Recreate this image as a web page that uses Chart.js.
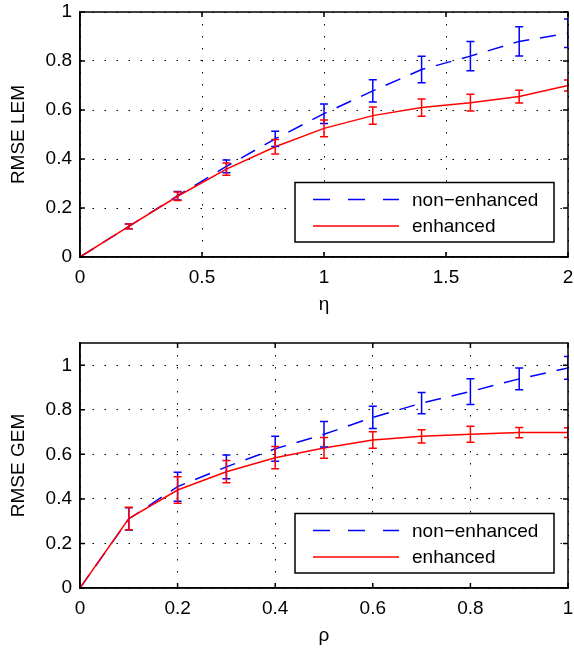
<!DOCTYPE html>
<html>
<head>
<meta charset="utf-8">
<script src="https://cdn.jsdelivr.net/npm/chart.js@4"></script>
<style>
  body { margin: 0; background: #fff; }
  .panel { position: absolute; left: 0; width: 574px; height: 320px; }
</style>
</head>
<body>
<div class="panel" style="top:0"><canvas id="lemChart" width="574" height="320"></canvas></div>
<div class="panel" style="top:331px"><canvas id="gemChart" width="574" height="320"></canvas></div>
<script>
// top panel: RMSE LEM vs eta
const etaVals = [0, 0.2, 0.4, 0.6, 0.8, 1.0, 1.2, 1.4, 1.6, 1.8, 2.0];
const lemNonEnh = [0, 0.125, 0.25, 0.37, 0.482, 0.585, 0.678, 0.765, 0.82, 0.88, 0.913];
const lemNonEnhErr = [0, 0.01, 0.017, 0.026, 0.031, 0.04, 0.045, 0.054, 0.06, 0.06, 0.058];
const lemEnh = [0, 0.125, 0.248, 0.359, 0.45, 0.525, 0.577, 0.61, 0.63, 0.655, 0.70];
const lemEnhErr = [0, 0.01, 0.017, 0.025, 0.03, 0.034, 0.035, 0.035, 0.034, 0.026, 0.022];
const etaTicks = [0, 0.5, 1, 1.5, 2];
const etaTickLabels = ['0', '0.5', '1', '1.5', '2'];

// bottom panel: RMSE GEM vs rho
const rhoVals = [0, 0.1, 0.2, 0.3, 0.4, 0.5, 0.6, 0.7, 0.8, 0.9, 1.0];
const gemNonEnh = [0, 0.31, 0.455, 0.544, 0.625, 0.69, 0.766, 0.83, 0.882, 0.939, 0.988];
const gemNonEnhErr = [0, 0.05, 0.065, 0.053, 0.056, 0.057, 0.05, 0.048, 0.058, 0.049, 0.051];
const gemEnh = [0, 0.312, 0.44, 0.522, 0.585, 0.629, 0.665, 0.681, 0.69, 0.698, 0.698];
const gemEnhErr = [0, 0.05, 0.06, 0.05, 0.05, 0.047, 0.037, 0.03, 0.036, 0.023, 0.022];
const rhoTicks = [0, 0.2, 0.4, 0.6, 0.8, 1];
const rhoTickLabels = ['0', '0.2', '0.4', '0.6', '0.8', '1'];

const rmseTicks = [0, 0.2, 0.4, 0.6, 0.8, 1];
const rmseTickLabels = ['0', '0.2', '0.4', '0.6', '0.8', '1'];

const seriesNames = ['non\u2212enhanced', 'enhanced'];

const BLUE = '#0000ff';
const RED = '#ff0000';
const FONT = "'Liberation Sans', Arial, Helvetica, sans-serif";

Chart.defaults.font.family = FONT;
Chart.defaults.font.size = 19;
Chart.defaults.color = '#000';

const toPoints = (xs, ys) => xs.map((x, i) => ({ x: x, y: ys[i] }));

// error bars, drawn from each dataset's "errors" array through the scales
const errorBars = {
  id: 'errorBars',
  afterDatasetsDraw(chart) {
    const { ctx, chartArea: a, scales: { x, y } } = chart;
    ctx.save();
    ctx.beginPath();
    ctx.rect(a.left, a.top - 1, a.right - a.left, a.bottom - a.top + 2);
    ctx.clip();
    chart.data.datasets.forEach(ds => {
      ctx.strokeStyle = ds.borderColor;
      ctx.lineWidth = 1.5;
      ctx.setLineDash([]);
      ds.data.forEach((p, i) => {
        const e = ds.errors[i];
        if (!e) return;
        const px = x.getPixelForValue(p.x);
        const top = y.getPixelForValue(p.y + e);
        const bot = y.getPixelForValue(p.y - e);
        ctx.beginPath();
        ctx.moveTo(px, top); ctx.lineTo(px, bot);
        ctx.moveTo(px - 4, top); ctx.lineTo(px + 4, top);
        ctx.moveTo(px - 4, bot); ctx.lineTo(px + 4, bot);
        ctx.stroke();
      });
    });
    ctx.restore();
  }
};

// closed box with inward tick marks, then legend in the lower right
const frameAndLegend = {
  id: 'frameAndLegend',
  afterDraw(chart) {
    const { ctx, chartArea: a, scales: { x, y } } = chart;
    ctx.save();
    ctx.strokeStyle = '#000';
    ctx.lineWidth = 1.5;
    ctx.setLineDash([]);
    ctx.strokeRect(a.left, a.top, a.right - a.left, a.bottom - a.top);
    ctx.beginPath();
    x.ticks.forEach(t => {
      const px = x.getPixelForValue(t.value);
      ctx.moveTo(px, a.bottom); ctx.lineTo(px, a.bottom - 5);
      ctx.moveTo(px, a.top); ctx.lineTo(px, a.top + 5);
    });
    y.ticks.forEach(t => {
      const py = y.getPixelForValue(t.value);
      ctx.moveTo(a.left, py); ctx.lineTo(a.left + 5, py);
      ctx.moveTo(a.right, py); ctx.lineTo(a.right - 5, py);
    });
    ctx.stroke();

    // legend box
    const w = 259, h = 59.5;
    const bx = a.right - 14 - w, by = a.bottom - 15 - h;
    ctx.fillStyle = '#fff';
    ctx.fillRect(bx, by, w, h);
    ctx.lineWidth = 1.5;
    ctx.strokeRect(bx, by, w, h);

    const rows = [by + 17, by + 43.5];
    chart.data.datasets.forEach((ds, i) => {
      ctx.strokeStyle = ds.borderColor;
      ctx.lineWidth = 1.5;
      ctx.setLineDash(i === 0 ? [17, 18] : []);
      ctx.beginPath();
      ctx.moveTo(bx + 18, rows[i]);
      ctx.lineTo(bx + 104, rows[i]);
      ctx.stroke();
      ctx.setLineDash([]);
      ctx.fillStyle = '#000';
      ctx.font = `19px ${FONT}`;
      ctx.textBaseline = 'middle';
      ctx.textAlign = 'left';
      ctx.fillText(ds.label, bx + 117, rows[i] + 1);
    });
    ctx.restore();
  }
};

// no automatic padding for overhanging labels, so the plot box lands where it should
const noPad = s => { s.paddingLeft = 0; s.paddingRight = 0; s.paddingTop = 0; s.paddingBottom = 0; };

function buildChart(id, o) {
  new Chart(document.getElementById(id), {
    type: 'line',
    data: {
      datasets: [
        {
          label: seriesNames[0],
          data: toPoints(o.xs, o.nonEnh),
          errors: o.nonEnhErr,
          borderColor: BLUE,
          borderWidth: 1.5,
          borderDash: [16, 11],
          pointRadius: 0,
          tension: 0,
          order: 1
        },
        {
          label: seriesNames[1],
          data: toPoints(o.xs, o.enh),
          errors: o.enhErr,
          borderColor: RED,
          borderWidth: 1.5,
          pointRadius: 0,
          tension: 0,
          order: 0
        }
      ]
    },
    options: {
      responsive: false,
      animation: false,
      layout: { padding: { left: 0, right: 6, top: 12, bottom: 0 } },
      plugins: { legend: { display: false }, tooltip: { enabled: false } },
      scales: {
        x: {
          type: 'linear',
          min: o.xTicks[0],
          max: o.xTicks[o.xTicks.length - 1],
          afterBuildTicks: s => { s.ticks = o.xTicks.map(v => ({ value: v })); },
          afterFit: s => { s.height = 63; noPad(s); },
          ticks: { padding: 9, maxRotation: 0, autoSkip: false, callback: (v, i) => o.xTickLabels[i] },
          grid: { color: '#000', lineWidth: 1, drawTicks: false },
          border: { display: true, color: '#000', width: 1.5, dash: [1.5, 10.5] },
          title: { display: true, text: o.xTitle, padding: { top: 0, bottom: 4 } }
        },
        y: {
          min: 0,
          max: o.yMax,
          afterBuildTicks: s => { s.ticks = rmseTicks.map(v => ({ value: v })); },
          afterFit: s => { s.width = 80; noPad(s); },
          ticks: { padding: 8, autoSkip: false, callback: (v, i) => rmseTickLabels[i] },
          grid: { color: '#000', lineWidth: 1, drawTicks: false },
          border: { display: true, color: '#000', width: 1.5, dash: [1.5, 10.5] },
          title: { display: true, text: o.yTitle, padding: { top: 7, bottom: 0 } }
        }
      }
    },
    plugins: [errorBars, frameAndLegend]
  });
}

buildChart('lemChart', {
  xs: etaVals, nonEnh: lemNonEnh, nonEnhErr: lemNonEnhErr, enh: lemEnh, enhErr: lemEnhErr,
  xTicks: etaTicks, xTickLabels: etaTickLabels, xTitle: '\u03b7', yTitle: 'RMSE LEM', yMax: 1
});

buildChart('gemChart', {
  xs: rhoVals, nonEnh: gemNonEnh, nonEnhErr: gemNonEnhErr, enh: gemEnh, enhErr: gemEnhErr,
  xTicks: rhoTicks, xTickLabels: rhoTickLabels, xTitle: '\u03c1', yTitle: 'RMSE GEM', yMax: 1.1
});
</script>
</body>
</html>
